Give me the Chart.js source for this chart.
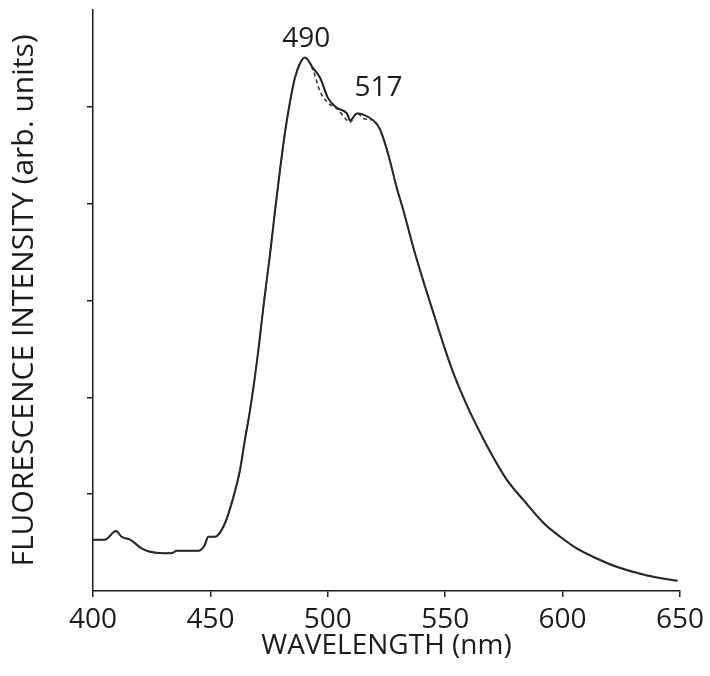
<!DOCTYPE html>
<html>
<head>
<meta charset="utf-8">
<script src="https://cdn.jsdelivr.net/npm/chart.js@4/dist/chart.umd.min.js"></script>
<style>
  html, body { margin: 0; padding: 0; background: #fff; }
  canvas { display: block; }
</style>
</head>
<body>
<canvas id="spectrum" width="710" height="676"></canvas>
<script>
// wavelength (nm)
const wavelength = [400, 405, 409.8, 412.2, 415.8, 420.7, 424.3, 430, 433.5, 435.6, 444.9, 447.5, 449.1, 452, 456.2,
  459.8, 462.6, 464.7, 466.9, 469, 470.5, 472.5, 475.4, 477.5, 479.6, 481.8, 483.9, 486, 488.2, 490.3, 493.7,
  496.7, 500.1, 503.9, 508.2, 509.5, 512.4, 515.1, 519.4, 522.2, 524.4, 526.5, 529.3, 532.2, 536.4, 540.7, 545,
  549.2, 553.5, 559.2, 564.8, 570.5, 576.2, 583.3, 592, 599, 606, 616, 623, 636, 649];

// solid trace
const intensitySolid = [0.53, 0.53, 0.62, 0.56, 0.53, 0.44, 0.405, 0.39, 0.39, 0.415, 0.415, 0.47, 0.56, 0.56, 0.70,
  0.97, 1.25, 1.56, 1.87, 2.22, 2.5, 2.92, 3.48, 3.92, 4.34, 4.74, 5.05, 5.3, 5.45, 5.51, 5.40,
  5.30, 5.09, 4.99, 4.93, 4.86, 4.93, 4.92, 4.86, 4.77, 4.62, 4.44, 4.17, 3.93, 3.55, 3.20, 2.87,
  2.55, 2.25, 1.92, 1.64, 1.38, 1.15, 0.94, 0.70, 0.56, 0.44, 0.32, 0.25, 0.16, 0.105];

// dashed trace (only differs near the top)
const intensityDashed = [0.53, 0.53, 0.62, 0.56, 0.53, 0.44, 0.405, 0.39, 0.39, 0.415, 0.415, 0.47, 0.56, 0.56, 0.70,
  0.97, 1.25, 1.56, 1.87, 2.22, 2.5, 2.92, 3.48, 3.92, 4.34, 4.74, 5.05, 5.3, 5.45, 5.51, 5.38,
  5.16, 5.04, 4.98, 4.86, 4.84, 4.94, 4.88, 4.86, 4.77, 4.62, 4.44, 4.17, 3.93, 3.55, 3.20, 2.87,
  2.55, 2.25, 1.92, 1.64, 1.38, 1.15, 0.94, 0.70, 0.56, 0.44, 0.32, 0.25, 0.16, 0.105];

const xTicks = [400, 450, 500, 550, 600, 650];
const peakLabels = ["490", "517"];
const peakX = [490.8, 521.6];

const FONT = "'Open Sans', 'DejaVu Sans', sans-serif";
const INK = "#1c1c1c";

const toPoints = (ys) => wavelength.map((x, i) => ({ x: x, y: ys[i] }));

// writes the peak wavelengths above the curve
const peakText = {
  id: "peakText",
  afterDatasetsDraw(chart) {
    const c = chart.ctx;
    const xs = chart.scales.x, ys = chart.scales.y;
    const yAt = [5.70, 5.19];
    c.save();
    c.font = "28px " + FONT;
    c.fillStyle = INK;
    c.textAlign = "center";
    c.textBaseline = "middle";
    peakLabels.forEach((t, i) => {
      c.fillText(t, xs.getPixelForValue(peakX[i]), ys.getPixelForValue(yAt[i]));
    });
    c.restore();
  }
};

new Chart(document.getElementById("spectrum").getContext("2d"), {
  type: "line",
  data: {
    datasets: [
      {
        data: toPoints(intensityDashed),
        borderColor: "#333",
        borderWidth: 1.5,
        borderDash: [4, 3],
        pointRadius: 0,
        cubicInterpolationMode: "monotone",
      },
      {
        data: toPoints(intensitySolid),
        borderColor: INK,
        borderWidth: 2,
        pointRadius: 0,
        cubicInterpolationMode: "monotone",
      },
    ],
  },
  options: {
    responsive: false,
    animation: false,
    layout: { padding: { top: 10, right: 30, left: 0, bottom: 0 } },
    plugins: { legend: { display: false }, tooltip: { enabled: false } },
    scales: {
      x: {
        type: "linear",
        min: 400,
        max: 650,
        afterBuildTicks: (s) => { s.ticks = xTicks.map((v) => ({ value: v })); },
        afterFit: (s) => { s.height = 85; },
        border: { color: INK, width: 1.5 },
        grid: { drawOnChartArea: false, tickLength: 6, color: INK, lineWidth: 1.5 },
        ticks: { color: INK, font: { family: FONT, size: 28 }, padding: 6, maxRotation: 0 },
        title: {
          display: true,
          text: "WAVELENGTH (nm)",
          color: INK,
          font: { family: FONT, size: 28 },
          padding: { top: 0, bottom: 13 },
        },
      },
      y: {
        min: 0,
        max: 6,
        afterFit: (s) => { s.width = 93; },
        border: { color: INK, width: 1.5 },
        grid: {
          drawOnChartArea: false,
          tickLength: 6,
          lineWidth: 1.5,
          color: (ctx) => (ctx.tick && (ctx.tick.value === 0 || ctx.tick.value === 6) ? "rgba(0,0,0,0)" : INK),
        },
        ticks: { stepSize: 1, display: false },
        title: {
          display: true,
          text: "FLUORESCENCE INTENSITY (arb. units)",
          color: INK,
          font: { family: FONT, size: 30 },
          padding: { top: 6, bottom: 0 },
        },
      },
    },
  },
  plugins: [peakText],
});
</script>
</body>
</html>
